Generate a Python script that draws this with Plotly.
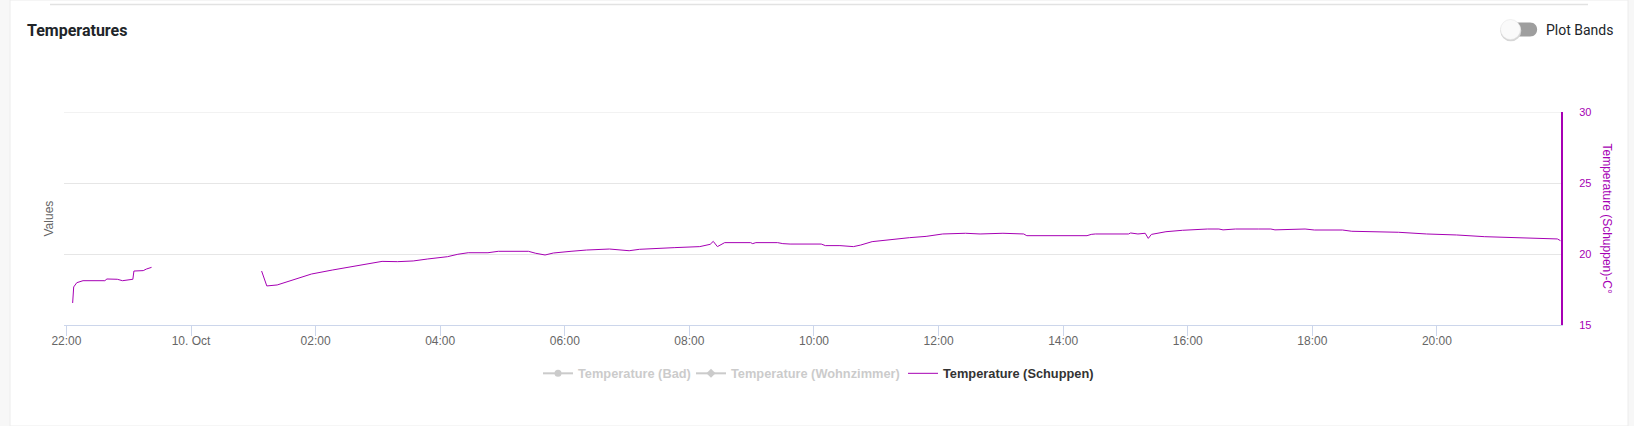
import plotly.graph_objects as go

# ---------------- data ----------------
times = [
    "2023-10-09 22:06", "2023-10-09 22:07", "2023-10-09 22:10", "2023-10-09 22:16",
    "2023-10-09 22:37", "2023-10-09 22:39", "2023-10-09 22:49", "2023-10-09 22:54",
    "2023-10-09 23:04", "2023-10-09 23:05", "2023-10-09 23:14", "2023-10-09 23:17",
    "2023-10-09 23:22",
    "2023-10-10 00:15",  # gap
    "2023-10-10 01:08", "2023-10-10 01:13", "2023-10-10 01:23", "2023-10-10 01:37",
    "2023-10-10 01:56", "2023-10-10 02:16", "2023-10-10 02:35", "2023-10-10 02:55",
    "2023-10-10 03:04", "2023-10-10 03:19", "2023-10-10 03:34", "2023-10-10 03:48",
    "2023-10-10 04:07", "2023-10-10 04:17", "2023-10-10 04:27", "2023-10-10 04:46",
    "2023-10-10 04:56", "2023-10-10 05:25", "2023-10-10 05:32", "2023-10-10 05:41",
    "2023-10-10 05:49", "2023-10-10 06:06", "2023-10-10 06:21", "2023-10-10 06:43",
    "2023-10-10 06:52", "2023-10-10 07:02", "2023-10-10 07:12", "2023-10-10 07:26",
    "2023-10-10 07:46", "2023-10-10 08:10", "2023-10-10 08:20", "2023-10-10 08:23",
    "2023-10-10 08:27", "2023-10-10 08:34", "2023-10-10 08:59", "2023-10-10 09:01",
    "2023-10-10 09:04", "2023-10-10 09:25", "2023-10-10 09:30", "2023-10-10 09:37",
    "2023-10-10 10:07", "2023-10-10 10:11", "2023-10-10 10:25", "2023-10-10 10:38",
    "2023-10-10 10:45", "2023-10-10 10:56", "2023-10-10 11:17", "2023-10-10 11:32",
    "2023-10-10 11:48", "2023-10-10 12:04", "2023-10-10 12:26", "2023-10-10 12:40",
    "2023-10-10 13:02", "2023-10-10 13:22", "2023-10-10 13:25", "2023-10-10 14:23",
    "2023-10-10 14:27", "2023-10-10 14:31", "2023-10-10 15:03", "2023-10-10 15:05",
    "2023-10-10 15:12", "2023-10-10 15:19", "2023-10-10 15:22", "2023-10-10 15:25",
    "2023-10-10 15:39", "2023-10-10 15:55", "2023-10-10 16:19", "2023-10-10 16:30",
    "2023-10-10 16:34", "2023-10-10 16:46", "2023-10-10 17:08", "2023-10-10 17:20",
    "2023-10-10 17:24", "2023-10-10 17:53", "2023-10-10 18:02", "2023-10-10 18:29",
    "2023-10-10 18:38", "2023-10-10 19:05", "2023-10-10 19:09", "2023-10-10 19:23",
    "2023-10-10 19:50", "2023-10-10 20:19", "2023-10-10 20:46", "2023-10-10 21:15",
    "2023-10-10 21:42", "2023-10-10 21:56", "2023-10-10 21:59",
]
temp_schuppen = [
    16.55, 17.68, 17.98, 18.12,
    18.12, 18.24, 18.22, 18.12,
    18.22, 18.80, 18.83, 18.94,
    19.06,
    None,
    18.80, 17.75, 17.82, 18.17,
    18.59, 18.87, 19.11, 19.34,
    19.48, 19.46, 19.51, 19.65,
    19.81, 19.98, 20.09, 20.09,
    20.19, 20.19, 20.05, 19.93,
    20.07, 20.19, 20.28, 20.35,
    20.28, 20.23, 20.33, 20.40,
    20.45, 20.52, 20.68, 20.89,
    20.52, 20.80, 20.80, 20.73,
    20.80, 20.80, 20.73, 20.70,
    20.70, 20.59, 20.59, 20.52,
    20.63, 20.87, 21.06, 21.15,
    21.24, 21.41, 21.46, 21.41,
    21.46, 21.41, 21.29, 21.29,
    21.38, 21.41, 21.41, 21.48,
    21.41, 21.46, 21.10, 21.38,
    21.57, 21.67, 21.76, 21.76,
    21.70, 21.76, 21.76, 21.76,
    21.70, 21.76, 21.69, 21.69,
    21.60, 21.57, 21.52, 21.53,
    21.41, 21.34, 21.22, 21.17,
    21.10, 21.06, 20.94,
]

x_range = ["2023-10-09 21:57:40", "2023-10-10 21:59:30"]
x_tickvals = ["2023-10-09 22:00", "2023-10-10 00:00", "2023-10-10 02:00", "2023-10-10 04:00",
              "2023-10-10 06:00", "2023-10-10 08:00", "2023-10-10 10:00", "2023-10-10 12:00",
              "2023-10-10 14:00", "2023-10-10 16:00", "2023-10-10 18:00", "2023-10-10 20:00"]
x_ticktext = ["22:00", "10. Oct", "02:00", "04:00", "06:00", "08:00", "10:00", "12:00",
              "14:00", "16:00", "18:00", "20:00"]
y_range = [15, 30]
y_tickvals = [15, 20, 25, 30]

series_names = ["Temperature (Bad)", "Temperature (Wohnzimmer)", "Temperature (Schuppen)"]

# ---------------- layout helpers ----------------
W, H = 1634, 426
L, R, T, B = 64, 73, 112, 101
PW, PH = W - L - R, H - T - B


def px(xp):
    return (xp - L) / PW


def py(yp):
    return (H - B - yp) / PH


PURPLE = "#a600b4"
FONT = "Liberation Sans, Arial, sans-serif"

fig = go.Figure()

# hidden series (legend only)
fig.add_trace(go.Scatter(x=times[:2], y=temp_schuppen[:2], name=series_names[0], mode="lines+markers",
                         visible="legendonly", line=dict(color="#999999", width=2),
                         marker=dict(color="#999999", size=7), legend="legend"))
fig.add_trace(go.Scatter(x=times[:2], y=temp_schuppen[:2], name=series_names[1], mode="lines+markers",
                         visible="legendonly", line=dict(color="#999999", width=2),
                         marker=dict(color="#999999", size=7, symbol="diamond"), legend="legend2"))
fig.add_trace(go.Scatter(x=times, y=temp_schuppen, name=series_names[2], mode="lines",
                         connectgaps=False, line=dict(color=PURPLE, width=1), legend="legend3",
                         hoverinfo="x+y"))

shapes = [
    # white card
    dict(type="rect", xref="paper", yref="paper", x0=px(10), x1=px(1628), y0=py(0), y1=py(H),
         fillcolor="white", line=dict(color="#ececec", width=1), layer="below"),
    # top separator
    dict(type="line", xref="paper", yref="paper", x0=px(50), x1=px(1588), y0=py(4.5), y1=py(4.5),
         line=dict(color="#e2e2e2", width=1.5)),
    # top grid line (at the 30 tick, which plotly clips at the edge)
    dict(type="line", xref="paper", yref="y", x0=0, x1=1, y0=y_range[1], y1=y_range[1],
         line=dict(color="#e6e6e6", width=1), layer="below"),
    # toggle track
    dict(type="path", xref="paper", yref="paper",
         path=("M {a},{t} L {b},{t} C {c},{t} {c},{bt} {b},{bt} L {a},{bt} C {d},{bt} {d},{t} {a},{t} Z"
               ).format(a=px(1510), b=px(1530), c=px(1539.5), d=px(1500.5), t=py(22.5), bt=py(36.5)),
         fillcolor="#9e9e9e", line=dict(width=0)),
    # toggle knob shadow
    dict(type="circle", xref="paper", yref="paper", x0=px(1500.3), x1=px(1521.3), y0=py(20.3), y1=py(41.3),
         fillcolor="#d6d6d6", line=dict(width=0)),
    # toggle knob
    dict(type="circle", xref="paper", yref="paper", x0=px(1500.5), x1=px(1520.5), y0=py(19.5), y1=py(39.5),
         fillcolor="#fafafa", line=dict(color="#e0e0e0", width=0.5)),
]

annotations = [
    dict(text="<b>Temperatures</b>", xref="paper", yref="paper", x=px(25), y=py(30.5),
         xanchor="left", yanchor="middle", showarrow=False,
         font=dict(family="Roboto, sans-serif", size=16, color="#212529")),
    dict(text="Plot Bands", xref="paper", yref="paper", x=px(1544), y=py(29.5),
         xanchor="left", yanchor="middle", showarrow=False,
         font=dict(family="Roboto, sans-serif", size=14, color="#212529")),
    dict(text="Values", xref="paper", yref="paper", x=px(48), y=py(218.5), textangle=-90,
         xanchor="center", yanchor="middle", showarrow=False,
         font=dict(family=FONT, size=12, color="#666666")),
    dict(text="Temperature (Schuppen)-C°", xref="paper", yref="paper", x=px(1607), y=py(218.5),
         textangle=90, xanchor="center", yanchor="middle", showarrow=False,
         font=dict(family=FONT, size=12, color=PURPLE)),
]

legend_common = dict(orientation="h", xanchor="left", yanchor="middle", bgcolor="rgba(0,0,0,0)",
                     itemwidth=30, borderwidth=0, itemclick=False, itemdoubleclick=False)
LEG_Y = 373.5

fig.update_layout(
    width=W, height=H,
    margin=dict(l=L, r=R, t=T, b=B, pad=0),
    paper_bgcolor="#f7f7f7",
    plot_bgcolor="white",
    font=dict(family=FONT, size=12, color="#666666"),
    showlegend=True,
    legend=dict(x=px(538), y=py(LEG_Y), font=dict(family=FONT, size=12.8, color="#999999", weight="bold"),
                **legend_common),
    legend2=dict(x=px(691), y=py(LEG_Y), font=dict(family=FONT, size=12.8, color="#999999", weight="bold"),
                 **legend_common),
    legend3=dict(x=px(903), y=py(LEG_Y), font=dict(family=FONT, size=12.8, color="#333333", weight="bold"),
                 **legend_common),
    xaxis=dict(
        type="date", range=x_range, tickmode="array", tickvals=x_tickvals, ticktext=x_ticktext,
        showgrid=False, showline=True, linecolor="#ccd6eb", linewidth=1,
        ticks="outside", ticklen=10, tickcolor="#ccd6eb", tickwidth=1, ticklabelstandoff=-5,
        tickfont=dict(family=FONT, size=12, color="#666666"), zeroline=False,
    ),
    yaxis=dict(
        range=y_range, tickmode="array", tickvals=y_tickvals, side="right",
        showgrid=True, gridcolor="#e6e6e6", gridwidth=1, zeroline=False,
        showline=True, linecolor=PURPLE, linewidth=2, ticks="", ticklabelstandoff=14,
        tickfont=dict(family=FONT, size=11, color=PURPLE),
    ),
    shapes=shapes,
    annotations=annotations,
    hovermode="x",
)

fig.write_html("out.html",
               config={"displayModeBar": False},
               post_script="document.body.style.margin='0';document.body.style.background='#f7f7f7';")
